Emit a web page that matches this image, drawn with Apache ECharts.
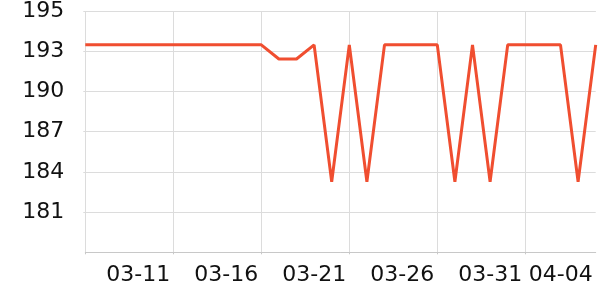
<!DOCTYPE html>
<html>
<head>
<meta charset="utf-8">
<script src="https://cdn.jsdelivr.net/npm/echarts@6/dist/echarts.min.js"></script>
<style>
html,body{margin:0;padding:0;background:#fff;}
#chart{width:600px;height:300px;}
</style>
</head>
<body>
<div id="chart"></div>
<script>
var dates = ['03-06','03-07','03-08','03-09','03-10','03-11','03-12','03-13','03-14','03-15',
             '03-16','03-17','03-18','03-19','03-20','03-21','03-22','03-23','03-24','03-25',
             '03-26','03-27','03-28','03-29','03-30','03-31','04-01','04-02','04-03','04-04'];
var values = [193,193,193,193,193,193,193,193,193,193,
              193,192,192,193,183.3,193,183.3,193,193,193,
              193,183.3,193,183.3,193,193,193,193,183.3,193];
var yMin = 178.3, yMax = 195.4, ySplits = 6;
var labelIdx = [5,10,15,20,25,29];
var lineIdx = [0,5,10,15,20,25];

var chart = echarts.init(document.getElementById('chart'), null, {renderer:'canvas'});
chart.setOption({
  animation:false,
  grid:{left:85.3, right:4.3, top:10.3, bottom:47.7},
  xAxis:{
    type:'category', data:dates, boundaryGap:false,
    axisLine:{show:true, lineStyle:{color:'#c8c8c8', width:1}},
    axisTick:{show:true, length:2, interval:function(i){return lineIdx.indexOf(i)>=0;}, lineStyle:{color:'#c8c8c8'}},
    splitLine:{show:true, interval:function(i){return lineIdx.indexOf(i)>=0;}, lineStyle:{color:'#dcdcdc', width:1}},
    axisLabel:{interval:function(i){return labelIdx.indexOf(i)>=0;}, align:'right', padding:[0,3,0,0],
      fontFamily:'DejaVu Sans', fontSize:22, color:'#111', margin:12}
  },
  yAxis:{
    type:'value', min:yMin, max:yMax, interval:(yMax-yMin)/ySplits,
    axisLine:{show:false},
    axisTick:{show:true, length:2, lineStyle:{color:'#dcdcdc'}},
    splitLine:{show:true, lineStyle:{color:'#dcdcdc', width:1}},
    axisLabel:{showMinLabel:false, margin:21, fontFamily:'DejaVu Sans', fontSize:22, color:'#111',
      formatter:function(v){return String(Math.round(v));}}
  },
  series:[{
    type:'line', data:values, showSymbol:false, symbol:'none',
    lineStyle:{color:'#f04e30', width:3}
  }]
});
</script>
</body>
</html>
